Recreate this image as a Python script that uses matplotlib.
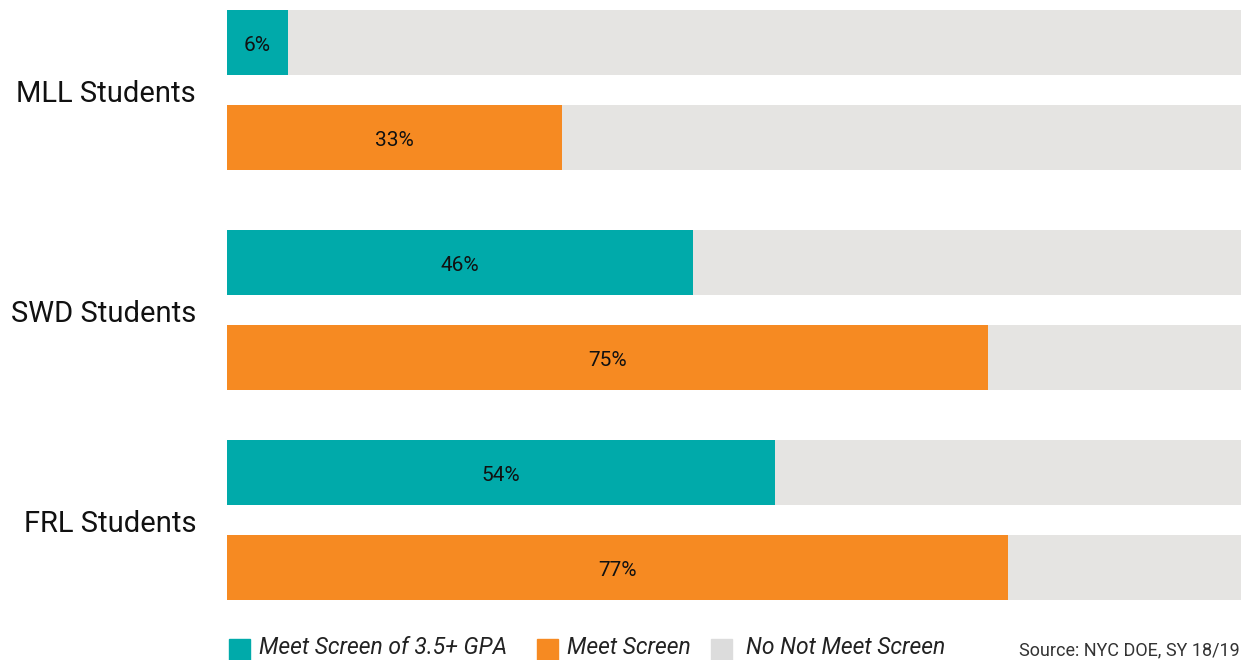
import matplotlib.pyplot as plt
from matplotlib.patches import Rectangle

# Data
groups = ["MLL Students", "SWD Students", "FRL Students"]
gpa_screen = [6, 46, 54]      # Meet Screen of 3.5+ GPA
meet_screen = [33, 75, 77]    # Meet Screen

teal = "#00AAAA"
orange = "#F68A22"
grey = "#E5E4E2"
legend_grey = "#DCDCDC"

plt.rcParams['font.family'] = ['Roboto', 'DejaVu Sans']

W, H = 1247, 660
fig = plt.figure(figsize=(W / 100, H / 100), dpi=100)

# axes in pixel-like units on y, percent on x
ax = fig.add_axes([227 / W, 0, 1014 / W, 1])
ax.set_xlim(0, 100)
ax.set_ylim(H, 0)
ax.axis("off")

group_y = [90, 310, 520]
offset = 47.5
bar_h = 65

for i, g in enumerate(groups):
    y1 = group_y[i] - offset
    y2 = group_y[i] + offset
    ax.barh(y1, 100, height=bar_h, color=grey)
    ax.barh(y2, 100, height=bar_h, color=grey)
    ax.barh(y1, gpa_screen[i], height=bar_h, color=teal)
    ax.barh(y2, meet_screen[i], height=bar_h, color=orange)
    ax.text(gpa_screen[i] / 2, y1 + 1, f"{gpa_screen[i]}%", ha="center",
            va="center_baseline", fontsize=15, color="#111111")
    ax.text(meet_screen[i] / 2, y2 + 1, f"{meet_screen[i]}%", ha="center",
            va="center_baseline", fontsize=15, color="#111111")
    fig.text(196 / W, 1 - (group_y[i] + 1) / H, g, ha="right",
             va="center_baseline", fontsize=21, color="#111111")

# Legend (manual)
legend_items = [("Meet Screen of 3.5+ GPA", teal, 229, 259),
                ("Meet Screen", orange, 537, 567),
                ("No Not Meet Screen", legend_grey, 711, 746)]
for label, c, sx, tx in legend_items:
    fig.add_artist(Rectangle((sx / W, 0), 21 / W, 21 / H, color=c,
                             transform=fig.transFigure))
    fig.text(tx / W, 1 / H, label, ha="left", va="bottom",
             fontsize=16.5, style="italic", color="#222222")

fig.text(1240 / W, 1 / H, "Source: NYC DOE, SY 18/19", ha="right",
         va="bottom", fontsize=13, color="#333333")

plt.savefig("out.png", dpi=100)
